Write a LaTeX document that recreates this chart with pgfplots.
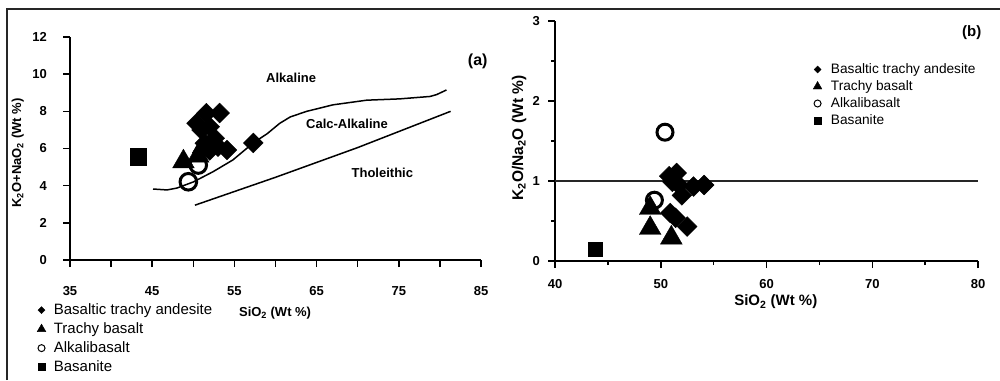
\documentclass[border=0pt]{standalone}
\usepackage{pgfplots}
\pgfplotsset{compat=1.18}
\usepackage{fontspec}
\setmainfont{Liberation Sans}
\begin{document}
\begin{tikzpicture}
\useasboundingbox (0,0) rectangle (1000pt,380pt);
\draw[line width=1.6pt, black!85] (7pt,0pt) -- (7pt,371pt) -- (1000pt,371pt);
\pgfplotsset{
 myax/.style={scale only axis, axis lines=left, axis line style={-, line width=1.8pt},
   tick align=outside, major tick length=7pt, minor tick length=4pt,
   every tick/.style={line width=1.5pt, black},
   /pgf/number format/assume math mode=true,
   tick label style={font=\fontsize{13}{15}\selectfont\bfseries},
   clip=false, legend cell align=left},
 bta/.style={only marks, mark=square*, mark options={rotate=45, fill=black, draw=black}, mark size=7pt},
 tb/.style={only marks, mark=triangle*, mark options={fill=black, draw=black}, mark size=12.5pt},
 ab/.style={only marks, mark=o, mark options={fill=white, draw=black, line width=3pt}, mark size=8.3pt},
 bs/.style={only marks, mark=square*, mark options={fill=black, draw=black}, mark size=8.3pt},
}
% ---------------- panel (a)
\begin{axis}[myax, at={(70pt,120pt)}, anchor=south west,
  width=411pt, height=223pt,
  xmin=35, xmax=85, ymin=0, ymax=12,
  xtick={35,40,...,85}, xticklabels={35,,45,,55,,65,,75,,85},
  ytick={0,2,...,12},
  xticklabel style={anchor=center, yshift=-24pt},
  yticklabel style={anchor=east, inner sep=0pt, xshift=-16pt},
  xlabel={SiO\textsubscript{2} (Wt \%)},
  ylabel={K\textsubscript{2}O+NaO\textsubscript{2} (Wt \%)},
  every axis x label/.style={at={(axis description cs:0.499,-0.238)}, anchor=center, font=\fontsize{13}{15}\selectfont\bfseries},
  every axis y label/.style={at={(axis description cs:-0.127,0.48)}, rotate=90, anchor=center, font=\fontsize{13}{15}\selectfont\bfseries},
  legend image code/.code={\draw[mark repeat=2,mark phase=2,#1] plot coordinates {(0pt,0pt)(5pt,0pt)(10pt,0pt)};},
  legend style={at={(axis description cs:-0.0803,-0.188)}, anchor=north west, draw=none, fill=none,
    inner sep=0pt, row sep=3pt, column sep=7pt,
    font=\fontsize{15}{17}\selectfont,
    nodes={inner sep=1pt, text height=11pt, text depth=3pt}},
]
\addplot[line width=1.5pt, black, forget plot] coordinates {(45.1,3.82)(46.8,3.77)(48,3.87)(50,4.2)(52.4,4.75)(54.8,5.38)(57.3,6.3)(59,6.8)(60.5,7.35)(61.8,7.7)(63.8,8.0)(67,8.35)(71.1,8.6)(75.1,8.67)(78.8,8.8)(79.6,8.9)(80.8,9.15)};
\addplot[line width=1.5pt, black, forget plot] coordinates {(50.2,2.95)(60,4.45)(70,6.05)(81.3,8.0)};
\addplot[bta, forget plot] coordinates {(53.2,7.91)(51.6,7.9)(50.4,7.36)(51.0,7.0)(52.0,7.17)(52.6,6.55)(51.4,6.28)(53.0,6.1)(54.1,5.92)(57.3,6.3)(52.0,5.9)};
\addplot[tb, forget plot] coordinates {(48.8,5.29)(51.2,6.1)(50.6,5.6)};
\addplot[ab, forget plot] coordinates {(50.6,5.11)(49.4,4.21)};
\addplot[bs, forget plot] coordinates {(43.3,5.56)};
\addlegendimage{only marks, mark=square*, mark options={rotate=45, fill=black}, mark size=2.5pt}
\addlegendentry{Basaltic trachy andesite}
\addlegendimage{only marks, mark=triangle*, mark options={fill=black}, mark size=5pt}
\addlegendentry{Trachy basalt}
\addlegendimage{only marks, mark=o, mark options={line width=1pt}, mark size=3.5pt}
\addlegendentry{Alkalibasalt}
\addlegendimage{only marks, mark=square*, mark options={fill=black}, mark size=3.5pt}
\addlegendentry{Basanite}
\node[font=\fontsize{13}{15}\selectfont\bfseries] at (axis cs:61.9,9.8) {Alkaline};
\node[font=\fontsize{13}{15}\selectfont\bfseries] at (axis cs:68.7,7.3) {Calc-Alkaline};
\node[font=\fontsize{13}{15}\selectfont\bfseries] at (axis cs:73,4.7) {Tholeithic};
\node[font=\fontsize{16}{18}\selectfont\bfseries] at (axis cs:84.6,10.7) {(a)};
\end{axis}
% ---------------- panel (b)
\begin{axis}[myax, at={(555pt,119pt)}, anchor=south west,
  width=423pt, height=240pt,
  axis line style={-, line width=1.5pt},
  xmin=40, xmax=80, ymin=0, ymax=3,
  xtick={40,50,...,80}, minor xtick={45,55,65,75},
  ytick={0,1,2,3}, minor ytick={0.5,1.5,2.5},
  xticklabel style={anchor=center, yshift=-16pt},
  yticklabel style={anchor=east, inner sep=0pt, xshift=-8pt},
  xlabel={SiO\textsubscript{2} (Wt \%)},
  ylabel={K\textsubscript{2}O/Na\textsubscript{2}O (Wt \%)},
  every axis x label/.style={at={(axis description cs:0.522,-0.171)}, anchor=center, font=\fontsize{15}{17}\selectfont\bfseries},
  every axis y label/.style={at={(axis description cs:-0.085,0.5125)}, rotate=90, anchor=center, font=\fontsize{15.5}{17}\selectfont\bfseries},
  legend image code/.code={\draw[mark repeat=2,mark phase=2,#1] plot coordinates {(0pt,0pt)(5pt,0pt)(10pt,0pt)};},
  legend style={at={(axis description cs:0.61,0.83)}, anchor=north west, draw=none, fill=none,
    inner sep=0pt, row sep=2pt, column sep=8pt,
    font=\fontsize{13.7}{16}\selectfont,
    nodes={inner sep=1pt, text height=10pt, text depth=3pt}},
]
\addplot[line width=1.5pt, black!85, forget plot] coordinates {(40,1)(80,1)};
\addplot[bta, mark size=7pt, forget plot] coordinates {(50.8,1.06)(51.5,1.1)(51.1,0.99)(51.7,0.95)(52.0,0.82)(53.1,0.93)(54.1,0.95)(50.9,0.6)(51.4,0.54)(52.5,0.43)};
\addplot[tb, mark size=12.5pt, forget plot] coordinates {(49.0,0.66)(49.0,0.41)(51.0,0.29)};
\addplot[ab, mark size=8pt, forget plot] coordinates {(50.4,1.61)(49.4,0.76)};
\addplot[bs, mark size=7pt, forget plot] coordinates {(43.8,0.15)};
\addlegendimage{only marks, mark=square*, mark options={rotate=45, fill=black}, mark size=2.5pt}
\addlegendentry{Basaltic trachy andesite}
\addlegendimage{only marks, mark=triangle*, mark options={fill=black}, mark size=5pt}
\addlegendentry{Trachy basalt}
\addlegendimage{only marks, mark=o, mark options={line width=1pt}, mark size=3.5pt}
\addlegendentry{Alkalibasalt}
\addlegendimage{only marks, mark=square*, mark options={fill=black}, mark size=3.5pt}
\addlegendentry{Basanite}
\node[font=\fontsize{15}{17}\selectfont\bfseries] at (axis cs:79.4,2.86) {(b)};
\end{axis}
\end{tikzpicture}
\end{document}
